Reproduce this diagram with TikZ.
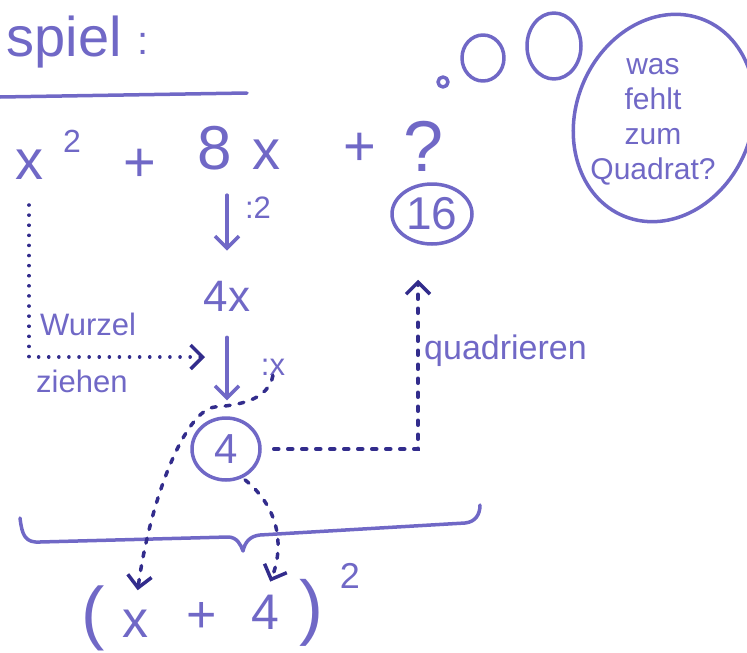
\documentclass[tikz,border=0pt]{standalone}
\usepackage{fontspec}
\setmainfont{Liberation Sans}
\usepackage{tikz}
\usetikzlibrary{positioning, arrows.meta, shapes.geometric}
\definecolor{ink}{RGB}{112,104,198}
\definecolor{darkink}{RGB}{50,44,140}

\begin{document}
\begin{tikzpicture}[x=1pt, y=-1pt,
    pen/.style={draw=ink, line width=3.5pt, line cap=round, line join=round},
    dots/.style={draw=darkink, line width=3.5pt, line cap=round, dash pattern=on 0.1pt off 10pt},
    dashes/.style={draw=darkink, line width=3.5pt, line cap=round, dash pattern=on 5pt off 9pt},
    barb/.style={-{Straight Barb[length=12pt, width=24pt]}},
    big/.style={text=ink, inner sep=0pt, font=\fontsize{56}{60}\selectfont},
    small/.style={text=ink, inner sep=0pt, font=\fontsize{31}{36}\selectfont},
    ring/.style={pen, ellipse, inner sep=0pt}]
    \useasboundingbox (0,0) rectangle (747,653);
    \clip (0,0) rectangle (747,653);

    % heading
    \node[big, anchor=base east] (title) at (122,56) {spiel};
    \node[big, font=\fontsize{40}{44}\selectfont] (colon) at (143,44) {:};
    \draw[pen] (0,97) -- (247,93);

    % x^2 + 8x + ?
    \node[big] (xa) at (29,165) {x};
    \node[big, font=\fontsize{32}{36}\selectfont] (sqa) at (72,141) {2};
    \node[big] (plusa) at (140,165) {+};
    \node[big, font=\fontsize{62}{66}\selectfont] (eight) at (215,148) {8};
    \node[big] (xb) at (266,155) {x};
    \node[big] (plusb) at (360,149) {+};
    \node[big, font=\fontsize{72}{76}\selectfont] (quest) at (424,146) {?};

    % thought bubble
    \draw[pen] (443,82) circle (5);
    \draw[pen] (483,58) ellipse (21 and 23);
    \draw[pen] (554,46) ellipse (27 and 33);
    \node[small, align=center, font=\fontsize{30}{35}\selectfont] (question) at (653,122) {was\\fehlt\\zum\\Quadrat?};
    \draw[pen, rotate around={-22:(664,118)}] (664,118) ellipse (88 and 106);

    \node[ring, big, font=\fontsize{46}{50}\selectfont, minimum width=80pt, minimum height=60pt] (sixteen) at (432,214) {16};

    % middle column
    \node[small] (divtwo) at (258,208) {:2};
    \node[big, font=\fontsize{44}{48}\selectfont] (fourx) at (227,296) {4x};
    \node[small] (divx) at (273,367) {:x};
    \node[ring, big, font=\fontsize{42}{46}\selectfont, minimum width=68pt, minimum height=62pt] (four) at (226,449) {4};
    \draw[pen, barb, shorten <=25pt, shorten >=30pt] (eight.south -| fourx.north) -- (fourx.north);
    \draw[pen, barb, shorten <=26pt, shorten >=16pt] (fourx.south) -- (fourx.south |- four.north);

    % Wurzel ziehen
    \node[small, anchor=west] (wurzel) at (40,324) {Wurzel};
    \node[small, anchor=west] (ziehen) at (36,381) {ziehen};
    \coordinate (rootend) at (205,357);
    \draw[dots, barb, shorten <=25pt] (xa.south) |- (rootend);

    % quadrieren
    \node[small, font=\fontsize{34}{38}\selectfont, anchor=west] (quadrieren) at (424,351) {quadrieren};
    \draw[dashes, barb, shorten <=12pt, shorten >=34pt] (four.east) -| ([xshift=-14pt]sixteen.south);

    % brace
    \draw[pen] (20,518) .. controls (22,535) and (25,543) .. (40,542) -- (228,537)
        .. controls (237,537) and (241,545) .. (243,551)
        .. controls (245,542) and (250,536) .. (260,535) -- (465,523)
        .. controls (475,522) and (480,515) .. (480,505);

    % (x + 4)^2
    \node[big, font=\fontsize{70}{74}\selectfont] (lpar) at (93,618) {(};
    \node[big, font=\fontsize{52}{56}\selectfont] (bx) at (135,624) {x};
    \node[big, font=\fontsize{52}{56}\selectfont] (bplus) at (202,617) {+};
    \node[big, font=\fontsize{50}{54}\selectfont] (bfour) at (265,612) {4};
    \node[big, font=\fontsize{72}{76}\selectfont] (rpar) at (311,613) {)};
    \node[big, font=\fontsize{36}{40}\selectfont] (bsq) at (350,576) {2};

    \draw[dashes, barb, shorten >=20pt] (divx.south) .. controls (268,400) and (240,405) .. (215,407)
        .. controls (185,410) and (150,500) .. (bx.north);
    \draw[dashes, barb, shorten <=3pt, shorten >=14pt] (four.-60) .. controls (282,510) and (283,550) .. (bfour.north);
\end{tikzpicture}
\end{document}
